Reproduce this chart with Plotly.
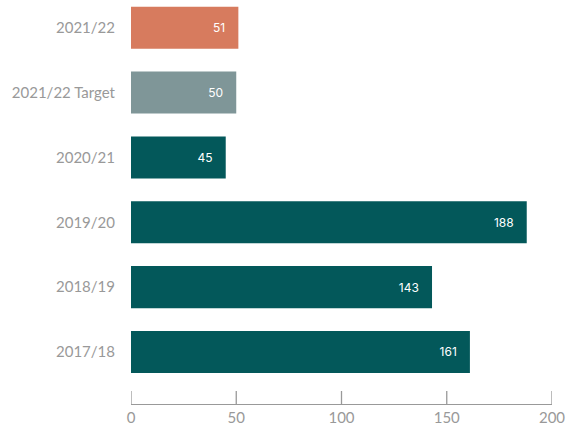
import plotly.graph_objects as go

# Categories listed bottom-to-top
periods = ["2017/18", "2018/19", "2019/20", "2020/21", "2021/22 Target", "2021/22"]
values = [161, 143, 188, 45, 50, 51]
colors = ["#03585A", "#03585A", "#03585A", "#03585A", "#7F9698", "#D77B5E"]
x_ticks = [0, 50, 100, 150, 200]

fig = go.Figure(
    go.Bar(
        y=periods,
        x=values,
        orientation="h",
        marker=dict(color=colors, line=dict(width=0)),
        width=0.648,
        text=values,
        texttemplate="%{x}\u00a0\u00a0\u00a0",
        textposition="inside",
        insidetextanchor="end",
        textfont=dict(color="white", size=12, family="Inter"),
        hoverinfo="skip",
        cliponaxis=False,
    )
)

# Upward tick marks sitting on the x axis line
for t in x_ticks:
    fig.add_shape(
        type="line",
        xref="x", yref="paper",
        x0=t, x1=t, y0=0, y1=13 / 404,
        line=dict(color="#999999", width=1.3),
        layer="above",
    )

fig.update_layout(
    width=572,
    height=429,
    margin=dict(l=131, r=20, t=0, b=25),
    plot_bgcolor="white",
    paper_bgcolor="white",
    showlegend=False,
    font=dict(family="Lato", color="#999999"),
)

fig.update_xaxes(
    range=[0, 200],
    tickvals=x_ticks,
    ticks="",
    showline=True,
    linecolor="#999999",
    linewidth=1.3,
    showgrid=False,
    zeroline=False,
    automargin=False,
    ticklabelstandoff=0,
    tickfont=dict(size=15, color="#999999", family="Lato"),
)

fig.update_yaxes(
    range=[-0.802, 5.427],
    showgrid=False,
    zeroline=False,
    showline=False,
    ticks="",
    automargin=False,
    ticklabelstandoff=15,
    tickfont=dict(size=15, color="#999999", family="Lato"),
)

fig.write_html("out.html")
